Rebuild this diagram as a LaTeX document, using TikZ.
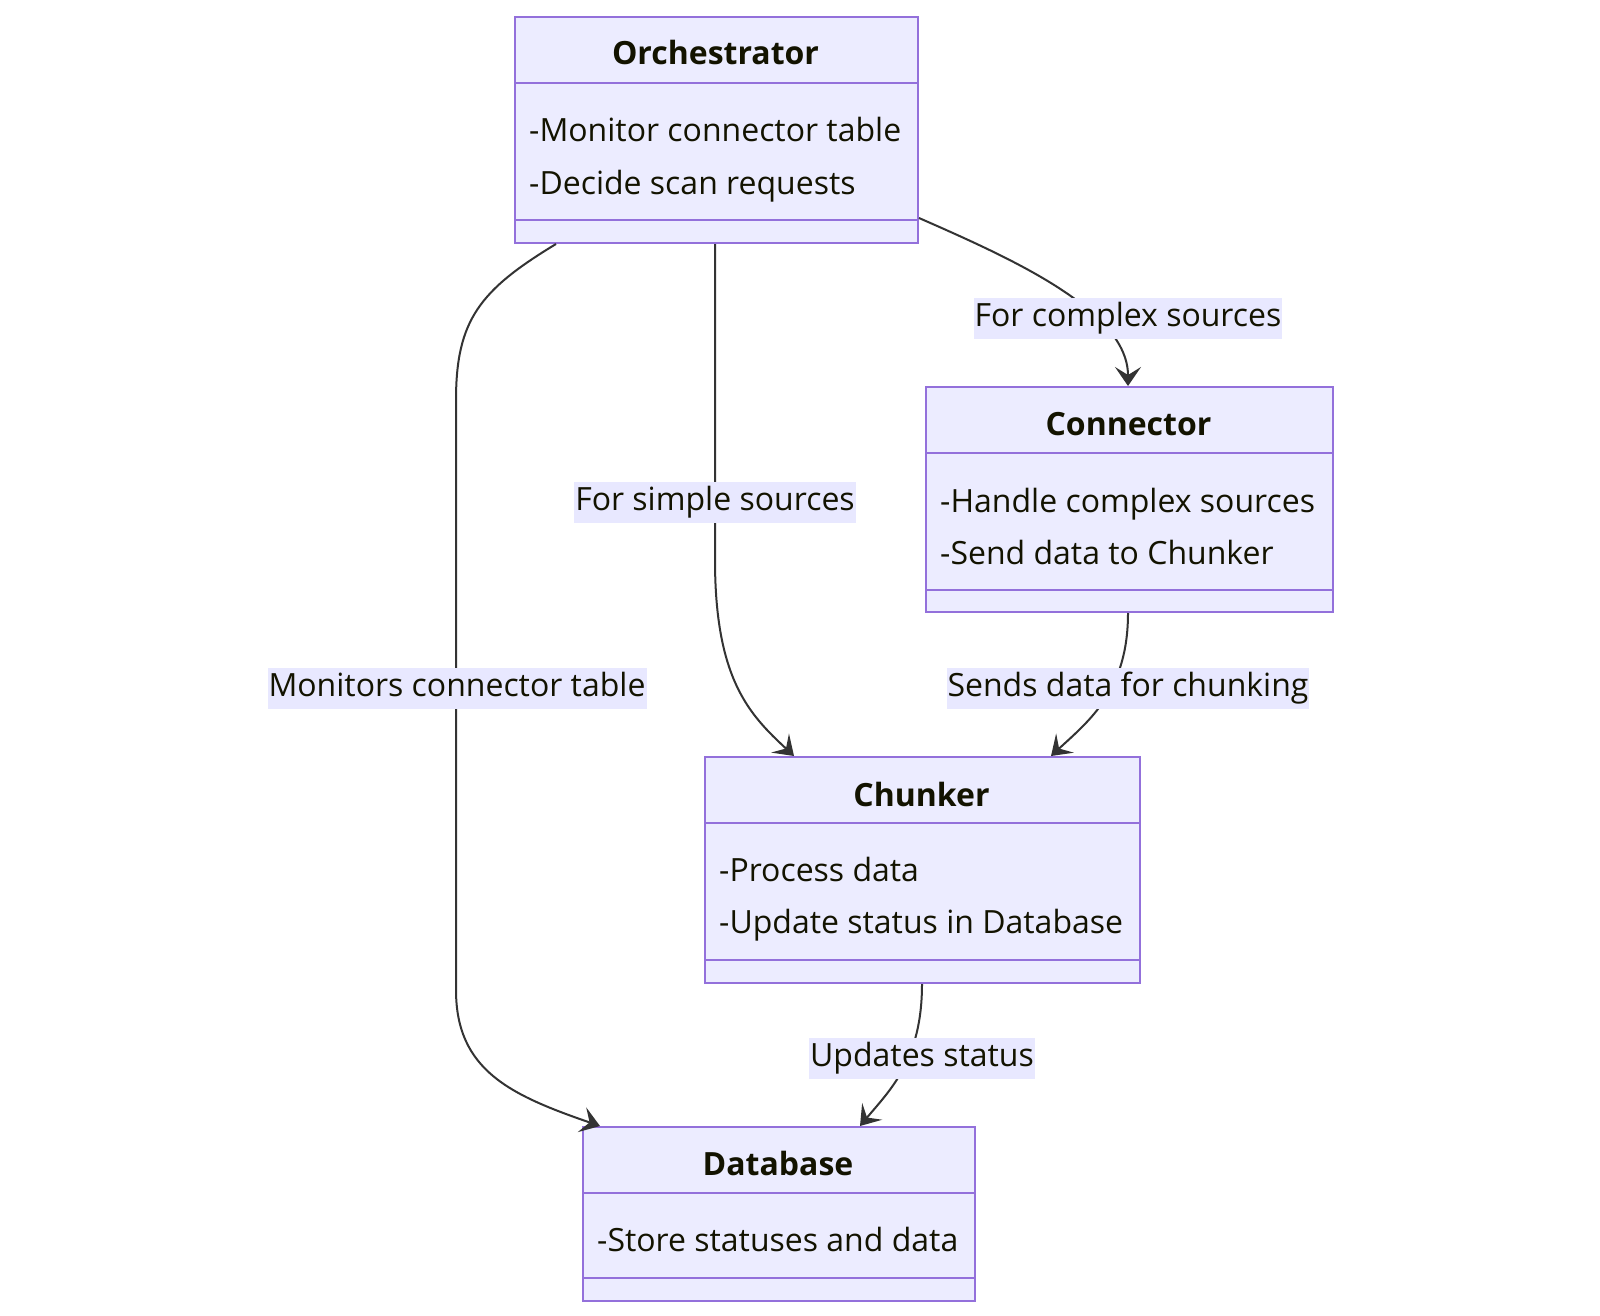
\documentclass[tikz,border=0pt]{standalone}
\usepackage{fontspec}
\setmainfont{Open Sans}
\usetikzlibrary{arrows.meta,calc}
\definecolor{boxfill}{HTML}{ECECFF}
\definecolor{boxstroke}{HTML}{9370DB}
\definecolor{txt}{HTML}{131300}
\definecolor{edge}{HTML}{333333}
\definecolor{lblfill}{HTML}{E8E8FF}
\tikzset{
  umlbox/.style={draw=boxstroke, fill=boxfill, line width=2pt, anchor=north west, inner sep=0pt},
  sepline/.style={draw=boxstroke, line width=2pt},
  ttl/.style={font=\fontsize{32}{38}\selectfont\bfseries, text=txt, inner sep=0pt, text height=24pt, text depth=8pt},
  member/.style={font=\fontsize{32}{38}\selectfont, text=txt, anchor=west, inner sep=0pt, text height=24pt, text depth=8pt},
  rel/.style={draw=edge, line width=2pt, -{Stealth[length=19pt,width=26pt,inset=8pt]}},
  lbl/.style={font=\fontsize{32}{38}\selectfont, text=txt, fill=lblfill, inner xsep=1pt, inner ysep=4.5pt, text height=24pt, text depth=8pt}
}
\begin{document}
\begin{tikzpicture}[x=1pt,y=-1pt]
\useasboundingbox (0,0) rectangle (1600,1316);
\fill[white] (0,0) rectangle (1600,1316);

% Orchestrator
\node[umlbox, minimum width=403pt, minimum height=226pt] (orch) at (514,16) {};
\draw[sepline] (514,83) -- (917,83);
\draw[sepline] (514,220) -- (917,220);
\node[ttl] (orchT) at (715.5,57) {Orchestrator};
\node[member] (orch1) at (529,134) {-Monitor connector table};
\node[member] (orch2) at (529,186) {-Decide scan requests};

% Connector
\node[umlbox, minimum width=407pt, minimum height=225pt] (conn) at (925,386) {};
\draw[sepline] (925,453) -- (1332,453);
\draw[sepline] (925,590) -- (1332,590);
\node[ttl] (connT) at (1128.5,427) {Connector};
\node[member] (conn1) at (940,504) {-Handle complex sources};
\node[member] (conn2) at (940,556) {-Send data to Chunker};

% Chunker
\node[umlbox, minimum width=435pt, minimum height=226pt] (chunk) at (704,756) {};
\draw[sepline] (704,823) -- (1139,823);
\draw[sepline] (704,960) -- (1139,960);
\node[ttl] (chunkT) at (921.5,798) {Chunker};
\node[member] (chunk1) at (719,873) {-Process data};
\node[member] (chunk2) at (719,925) {-Update status in Database};

% Database
\node[umlbox, minimum width=392pt, minimum height=174pt] (db) at (582,1126) {};
\draw[sepline] (582,1193) -- (974,1193);
\draw[sepline] (582,1278) -- (974,1278);
\node[ttl] (dbT) at (778,1167) {Database};
\node[member] (db1) at (597,1243) {-Store statuses and data};

% connector endpoints
\coordinate (oc) at ($(orch.north east)+(0,202)$);
\coordinate (ocE) at ($(conn.north west)+(203,0)$);
\coordinate (oh) at ($(orch.south west)+(201,0)$);
\coordinate (ohE) at ($(chunk.north west)+(90,0)$);
\coordinate (od) at ($(orch.south west)+(42,0)$);
\coordinate (odE) at ($(db.north west)+(18,0)$);
\coordinate (cc) at ($(conn.south west)+(203,0)$);
\coordinate (ccE) at ($(chunk.north west)+(347,0)$);
\coordinate (hd) at ($(chunk.south west)+(218,0)$);
\coordinate (hdE) at ($(db.north west)+(278,0)$);

% edges
\draw[rel] (oc) .. controls (1010,258) and (1128,310) .. (ocE);
\draw[rel] (oh) -- (715,560) .. controls (715,680) and (750,715) .. (ohE);
\draw[rel] (od) .. controls (480,290) and (456,320) .. (456,400) -- (456,990) .. controls (456,1070) and (510,1095) .. (odE);
\draw[rel] (cc) .. controls (1128,690) and (1090,720) .. (ccE);
\draw[rel] (hd) .. controls (922,1060) and (890,1090) .. (hdE);

% labels
\node[lbl] (l1) at (1128,318) {For complex sources};
\node[lbl] (l2) at (715,502) {For simple sources};
\node[lbl] (l3) at (457,688) {Monitors connector table};
\node[lbl] (l4) at (1128,688) {Sends data for chunking};
\node[lbl] (l5) at (922,1058) {Updates status};
\end{tikzpicture}
\end{document}
